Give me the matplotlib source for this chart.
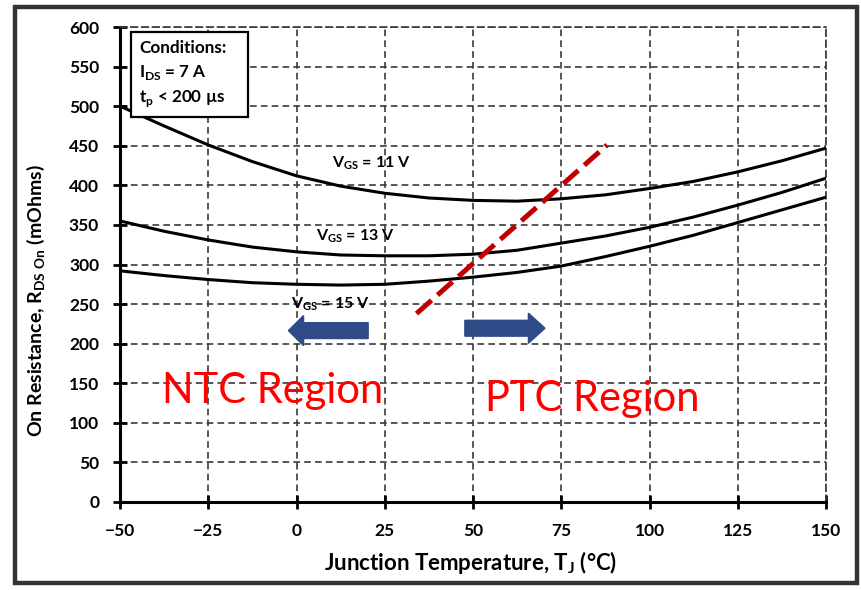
import numpy as np
import matplotlib
matplotlib.use('Agg')
import matplotlib.pyplot as plt
from matplotlib.patches import Rectangle, FancyArrow

plt.rcParams['font.family'] = ['Lato', 'DejaVu Sans']
plt.rcParams['mathtext.fontset'] = 'custom'
plt.rcParams['mathtext.rm'] = 'Lato:bold'
plt.rcParams['mathtext.bf'] = 'Lato:bold'

# ---------------------------------------------------------------- data
temps = [-50, -37.5, -25, -12.5, 0, 12.5, 25, 37.5, 50, 62.5, 75, 87.5, 100, 112.5, 125, 137.5, 150]
rds_11v = [500, 475, 451, 430, 412, 399, 390, 384, 381, 380, 383, 388, 396, 405, 417, 431, 447]
rds_13v = [355, 342, 331, 322, 316, 312, 311, 311, 313, 318, 327, 336, 347, 360, 375, 391, 409]
rds_15v = [292, 286, 281, 277, 275, 274, 275, 279, 284, 290, 298, 310, 323, 337, 353, 369, 385]

curve_labels = [r'V$_{\mathbf{GS}}$ = 11 V', r'V$_{\mathbf{GS}}$ = 13 V', r'V$_{\mathbf{GS}}$ = 15 V']
label_pos = [(10, 428), (5.5, 336), (-1.5, 250)]

boundary_t = [34, 88]
boundary_r = [238, 451]

xticks = [-50, -25, 0, 25, 50, 75, 100, 125, 150]
yticks = list(range(0, 601, 50))

# ---------------------------------------------------------------- figure
fig = plt.figure(figsize=(8.62, 5.90), dpi=100)
ax = fig.add_axes([120 / 862, 1 - 502 / 590, 706 / 862, 475 / 590])

for r, lab, (lx, ly) in zip([rds_11v, rds_13v, rds_15v], curve_labels, label_pos):
    ax.plot(temps, r, color='black', lw=2.2, zorder=3)
    ax.text(lx, ly, lab, fontsize=11.5, fontweight='bold', ha='left', va='center', zorder=4)

ax.plot(boundary_t, boundary_r, color='#C00000', lw=3.6, dashes=(4, 1.6), zorder=5,
        solid_capstyle='butt', dash_capstyle='butt')

# arrows
arrow_col = '#2E4A87'
ax.add_patch(FancyArrow(20.3, 216.5, -22.6, 0, width=20, head_width=38, head_length=4.3,
                        length_includes_head=True, color=arrow_col, zorder=5))
ax.add_patch(FancyArrow(47.7, 219.5, 22.7, 0, width=20, head_width=38, head_length=4.7,
                        length_includes_head=True, color=arrow_col, zorder=5))

ax.text(-38, 140, 'NTC Region', color='#FF0000', fontsize=30, ha='left', va='center')
ax.text(53.3, 130, 'PTC Region', color='#FF0000', fontsize=30, ha='left', va='center')

# conditions box
ax.add_patch(Rectangle((-46.9, 486.5), 33.2, 107, fc='white', ec='black', lw=1.6, zorder=6))
ax.text(-44.6, 583, 'Conditions:\n' + r'I$_{\mathbf{DS}}$ = 7 A' + '\n' + r't$_{\mathbf{p}}$ < 200 µs',
        fontsize=12.3, fontweight='bold', ha='left', va='top', linespacing=1.45, zorder=7)

ax.set_xlim(-50, 150)
ax.set_ylim(0, 600)
ax.set_xticks(xticks)
ax.set_yticks(yticks)
ax.tick_params(direction='inout', length=10, width=2, labelsize=12.5, pad=10)
for lab in ax.get_xticklabels() + ax.get_yticklabels():
    lab.set_fontweight('bold')
ax.grid(color='#3a3a3a', linestyle=(0, (4, 2.5)), lw=1.2)
for s in ['left', 'bottom']:
    ax.spines[s].set_linewidth(2.2)
for s in ['top', 'right']:
    ax.spines[s].set_linestyle((0, (4, 2.5)))
    ax.spines[s].set_linewidth(1.2)
    ax.spines[s].set_color('#3a3a3a')

ax.set_xlabel(r'Junction Temperature, T$_{\mathbf{J}}$ (°C)', fontsize=16, fontweight='bold')
ax.set_ylabel(r'On Resistance, R$_{\mathbf{DS\ On}}$ (mOhms)', fontsize=14, fontweight='bold')
ax.xaxis.set_label_coords(0.497, -0.098)
ax.yaxis.set_label_coords(-0.103, 0.425)

# outer frame
fig.patches.append(Rectangle((15 / 862, 7 / 590), 842 / 862, 576 / 590, transform=fig.transFigure,
                             fill=False, ec='#333333', lw=3.2, zorder=0))

fig.savefig('out.png', dpi=100)
